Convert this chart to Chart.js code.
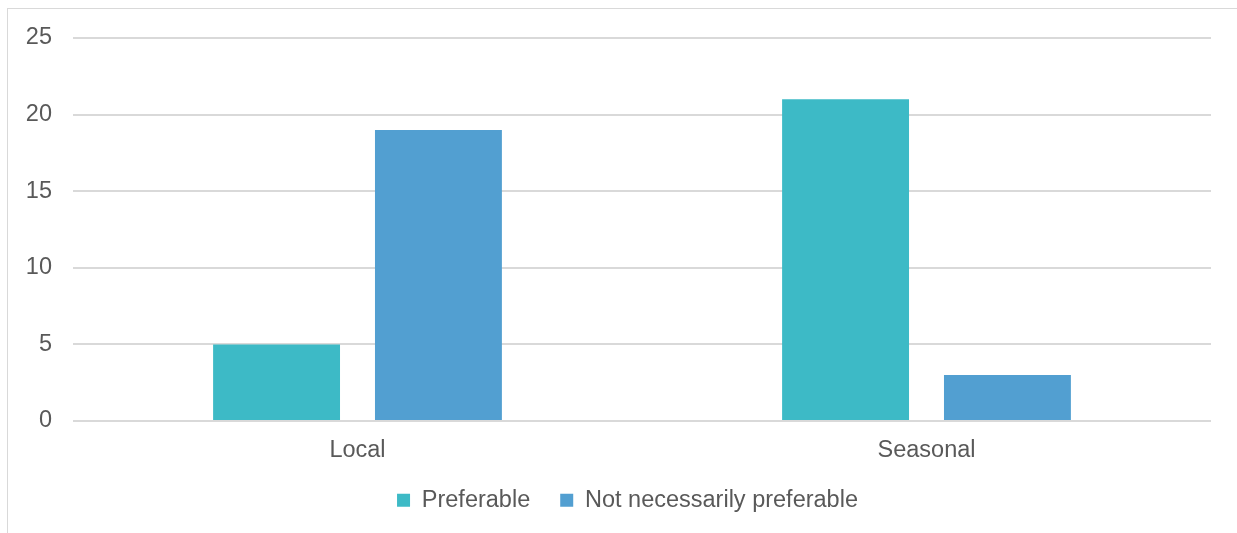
<!DOCTYPE html>
<html>
<head>
<meta charset="utf-8">
<script src="https://cdn.jsdelivr.net/npm/chart.js@4"></script>
<style>
  html, body { margin: 0; padding: 0; background: #fff; overflow: hidden; }
  #frame { position: absolute; left: 7px; top: 8px; width: 1260px; height: 560px; border: 1px solid #d9d9d9; }
  #wrap { position: absolute; left: 0; top: 0; width: 1237px; height: 533px; }
</style>
</head>
<body>
<div id="frame"></div>
<div id="wrap"><canvas id="chart"></canvas></div>
<script>
// 데이터
const categories = ['Local', 'Seasonal'];
const preferable = [5, 21];
const notNecessarilyPreferable = [19, 3];
const seriesNames = ['Preferable', 'Not necessarily preferable'];

const FONT = "'Liberation Sans', Arial, sans-serif";
const FS = 23.5;

// 범례를 오른쪽으로 약간 이동 (원본 위치에 맞춤)
const shiftLegend = {
    id: 'shiftLegend',
    afterLayout(chart) {
        if (chart.legend) {
            chart.legend.left += 22;
            chart.legend.right += 22;
        }
    }
};

const ctx = document.getElementById('chart').getContext('2d');
new Chart(ctx, {
    type: 'bar',
    data: {
        labels: categories,
        datasets: [
            { label: seriesNames[0], data: preferable, backgroundColor: '#3dbac6' },
            { label: seriesNames[1], data: notNecessarilyPreferable, backgroundColor: '#529fd1' }
        ]
    },
    options: {
        responsive: true,
        maintainAspectRatio: false,
        animation: false,
        categoryPercentage: 0.569,
        barPercentage: 0.784,
        layout: { padding: { top: 38, right: 26, left: 0, bottom: 11 } },
        plugins: {
            tooltip: { enabled: false },
            legend: {
                position: 'bottom',
                labels: {
                    boxWidth: 13,
                    boxHeight: 13,
                    padding: 30,
                    color: '#595959',
                    font: { family: FONT, size: FS }
                }
            }
        },
        scales: {
            x: {
                afterFit: function(scale) { scale.height = 37.5; },
                grid: { display: false, drawTicks: false },
                border: { display: false },
                ticks: { color: '#595959', padding: 15, font: { family: FONT, size: FS } }
            },
            y: {
                min: 0,
                max: 25,
                afterFit: function(scale) { scale.width = 73; },
                grid: { color: '#d9d9d9', lineWidth: 2, drawTicks: false },
                border: { display: false },
                ticks: { stepSize: 5, color: '#595959', padding: 21, font: { family: FONT, size: FS } }
            }
        }
    },
    plugins: [shiftLegend]
});
</script>
</body>
</html>
